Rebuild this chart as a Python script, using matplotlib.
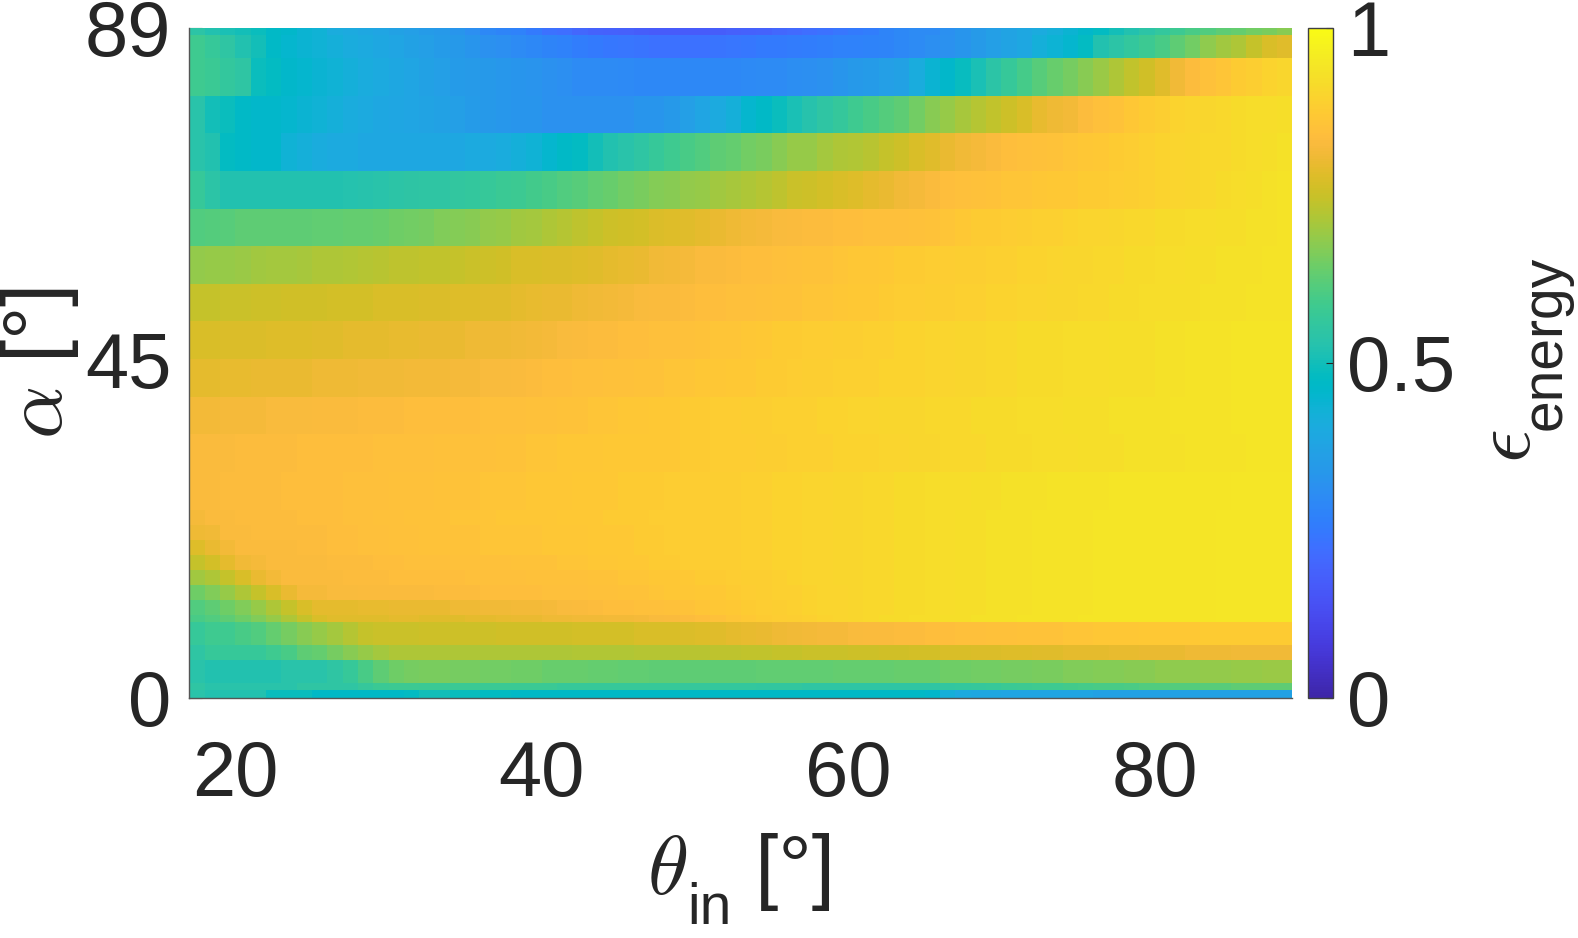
import numpy as np
import matplotlib
matplotlib.use('Agg')
import matplotlib.pyplot as plt
from matplotlib.colors import LinearSegmentedColormap

plt.rcParams['font.family'] = ['Liberation Sans', 'DejaVu Sans']
plt.rcParams['mathtext.fontset'] = 'cm'

# ---------------- data ----------------
theta_edges = list(range(17, 90))          # theta_in cell edges (deg)
alpha_edges = [0, 1, 2, 5, 7, 10, 11, 13, 15, 17, 19, 21, 23, 25, 30, 35,
               40, 45, 50, 55, 60, 65, 70, 75, 80, 85, 88, 89]
x_ticks = [20, 40, 60, 80]
y_ticks = [0, 45, 89]
c_ticks = [0, 0.5, 1]
c_ticklabels = ['0', '0.5', '1']

# epsilon_energy per alpha row, theta_in = 17 ... 88
row_0_1 = [.535,.52,.52,.52,.52,.49,.49,.49, .47,.47,.47,.47,.47,.47,.48,.50,
           .50,.49,.49,.48,.48,.47,.47,.47, .47,.47,.47,.47,.47,.47,.47,.47,
           .47,.47,.47,.47,.47,.47,.47,.47, .47,.47,.47,.47,.47,.47,.47,.47,
           .46,.42,.40,.39,.39,.38,.38,.38, .38,.38,.38,.37,.37,.37,.37,.37,
           .37,.37,.37,.37,.37,.37,.37,.37]
row_1_2 = [.55,.535,.535,.535,.535,.535,.535,.55, .55,.55,.55,.565,.575,.58,.58,.575,
           .575,.575,.575,.575,.575,.575,.575,.575, .57,.57,.57,.57,.57,.57,.57,.57,
           .565,.565,.56,.56,.56,.555,.555,.555, .55,.55,.55,.55,.55,.55,.55,.55,
           .55,.555,.56,.565,.57,.575,.58,.585, .585,.59,.595,.60,.60,.605,.61,.61,
           .615,.615,.62,.62,.625,.625,.625,.625]
row_2_5 = [.535,.52,.52,.52,.52,.52,.535,.535, .535,.55,.57,.60,.625,.645,.655,.66,
           .66,.655,.655,.65,.65,.645,.645,.64, .64,.64,.635,.635,.63,.63,.625,.625,
           .625,.625,.625,.625,.625,.63,.63,.63, .63,.63,.635,.635,.635,.635,.64,.64,
           .64,.645,.645,.65,.65,.655,.655,.66, .66,.665,.665,.67,.67,.675,.675,.68,
           .68,.68,.685,.685,.69,.69,.695,.695]
row_5_7 = [.55,.57,.57,.57,.57,.585,.60,.625, .635,.655,.675,.69,.705,.715,.715,.715,
           .715,.715,.715,.715,.715,.715,.715,.715, .715,.72,.72,.72,.72,.725,.725,.725,
           .73,.73,.735,.735,.74,.74,.745,.745, .75,.75,.75,.755,.755,.76,.76,.765,
           .765,.77,.77,.775,.775,.78,.78,.785, .785,.79,.79,.79,.795,.795,.80,.80,
           .80,.805,.805,.805,.81,.81,.81,.81]
row_7_10 = [.57,.585,.585,.60,.61,.635,.655,.675, .69,.705,.725,.745,.75,.75,.75,.755,
            .755,.755,.755,.755,.76,.76,.76,.76, .76,.765,.765,.765,.765,.77,.77,.77,
            .775,.78,.785,.79,.795,.80,.805,.81, .815,.82,.82,.825,.83,.83,.835,.835,
            .84,.84,.845,.845,.85,.85,.855,.855, .855,.86,.86,.865,.865,.865,.87,.87,
            .87,.87,.875,.875,.875,.875,.875,.875]
row_10_11 = [.60,.61,.625,.645,.665,.69,.715,.745, .77,.785,.785,.785,.785,.79,.79,.785,
             .785,.785,.79,.79,.795,.80,.80,.805, .805,.81,.81,.815,.815,.82,.825,.83,
             .835,.84,.85,.86,.87,.875,.88,.885, .89,.895,.90,.905,.91,.915,.915,.92,
             .92,.925,.925,.93,.93,.93,.935,.935, .935,.935,.94,.94,.94,.94,.94,.94,
             .94,.94,.94,.945,.945,.945,.945,.945]
row_11_13 = [.61,.625,.645,.665,.69,.715,.745,.77, .79,.79,.79,.795,.795,.80,.80,.80,
             .80,.805,.805,.81,.81,.815,.815,.82, .825,.83,.835,.84,.84,.845,.845,.85,
             .855,.86,.865,.87,.875,.88,.885,.89, .895,.90,.90,.905,.91,.91,.915,.915,
             .92,.92,.925,.925,.93,.93,.93,.935, .935,.935,.935,.94,.94,.94,.94,.94,
             .94,.94,.94,.945,.945,.945,.945,.945]
row_13_15 = [.645,.665,.69,.715,.745,.77,.80,.82, .82,.825,.825,.83,.83,.83,.83,.83,
             .835,.835,.835,.84,.84,.84,.84,.845, .845,.845,.85,.85,.855,.855,.86,.865,
             .865,.87,.87,.875,.88,.885,.89,.89, .895,.90,.90,.905,.91,.91,.915,.915,
             .92,.92,.925,.925,.93,.93,.93,.935, .935,.935,.935,.94,.94,.94,.94,.94,
             .94,.94,.94,.945,.945,.945,.945,.945]
row_15_17 = [.70,.715,.745,.77,.80,.815,.83,.83, .83,.83,.835,.835,.835,.84,.84,.84,
             .84,.84,.845,.845,.845,.845,.85,.85, .85,.85,.855,.855,.86,.86,.865,.865,
             .87,.875,.875,.88,.885,.885,.89,.895, .90,.90,.905,.905,.91,.91,.915,.915,
             .92,.92,.925,.925,.93,.93,.93,.935, .935,.935,.935,.94,.94,.94,.94,.94,
             .94,.94,.94,.945,.945,.945,.945,.945]
row_17_19 = [.745,.765,.79,.81,.82,.83,.83,.83, .83,.835,.835,.835,.84,.84,.845,.845,
             .845,.85,.85,.85,.85,.855,.855,.855, .86,.86,.865,.865,.87,.87,.875,.875,
             .88,.88,.885,.885,.89,.89,.895,.895, .90,.90,.905,.905,.91,.91,.915,.915,
             .92,.92,.925,.925,.93,.93,.93,.935, .935,.935,.935,.94,.94,.94,.94,.94,
             .94,.94,.94,.945,.945,.945,.945,.945]
row_19_21 = [.78,.80,.815,.83,.83,.83,.83,.835, .835,.84,.84,.845,.845,.85,.85,.855,
             .855,.855,.855,.86,.86,.86,.86,.865, .865,.865,.87,.87,.87,.875,.875,.88,
             .88,.88,.885,.885,.89,.89,.895,.895, .90,.90,.905,.905,.91,.91,.915,.915,
             .92,.92,.925,.925,.93,.93,.93,.935, .935,.935,.935,.94,.94,.94,.94,.94,
             .94,.94,.94,.945,.945,.945,.945,.945]
row_21_23 = [.805,.81,.83,.83,.835,.835,.835,.835, .835,.84,.84,.845,.845,.85,.85,.855,
             .855,.855,.855,.86,.86,.86,.86,.865, .865,.865,.87,.87,.87,.875,.875,.88,
             .88,.88,.885,.885,.89,.89,.895,.895, .90,.90,.905,.905,.91,.91,.915,.915,
             .92,.92,.925,.925,.93,.93,.93,.935, .935,.935,.935,.94,.94,.94,.94,.94,
             .94,.94,.94,.945,.945,.945,.945,.945]
row_23_25 = [.82,.83,.83,.835,.835,.835,.835,.84, .84,.84,.845,.845,.85,.85,.855,.855,
             .855,.86,.86,.86,.865,.865,.865,.865, .87,.87,.87,.875,.875,.875,.88,.88,
             .88,.88,.885,.885,.89,.89,.895,.895, .90,.90,.905,.905,.91,.91,.915,.915,
             .92,.92,.925,.925,.93,.93,.93,.935, .935,.935,.935,.94,.94,.94,.94,.94,
             .94,.94,.94,.945,.945,.945,.945,.945]
row_25_30 = [.83,.83,.835,.835,.835,.835,.84,.84, .84,.84,.845,.845,.845,.85,.85,.85,
             .855,.855,.855,.86,.86,.86,.865,.865, .865,.87,.87,.87,.875,.875,.875,.88,
             .88,.88,.885,.885,.89,.89,.895,.895, .90,.90,.905,.905,.91,.91,.915,.915,
             .92,.92,.92,.925,.925,.93,.93,.93, .935,.935,.935,.935,.94,.94,.94,.94,
             .94,.94,.94,.94,.945,.945,.945,.945]
row_30_35 = [.83,.83,.83,.835,.835,.835,.835,.84, .84,.84,.84,.84,.845,.845,.845,.845,
             .85,.85,.85,.85,.855,.855,.86,.86, .865,.865,.865,.87,.87,.87,.87,.87,
             .875,.875,.88,.88,.88,.885,.885,.89, .89,.89,.895,.895,.895,.90,.90,.905,
             .905,.91,.91,.91,.915,.915,.915,.92, .92,.92,.925,.925,.925,.93,.93,.93,
             .93,.935,.935,.935,.935,.94,.94,.94]
row_35_40 = [.815,.815,.82,.82,.82,.825,.825,.825, .83,.83,.83,.835,.835,.835,.84,.84,
             .84,.84,.84,.845,.845,.845,.85,.85, .855,.855,.86,.86,.865,.865,.87,.87,
             .875,.875,.88,.88,.885,.885,.89,.89, .89,.895,.895,.90,.90,.905,.905,.905,
             .91,.91,.91,.915,.915,.915,.92,.92, .92,.925,.925,.925,.93,.93,.93,.93,
             .935,.935,.935,.935,.94,.94,.94,.94]
row_40_45 = [.79,.79,.795,.795,.80,.80,.80,.80, .805,.805,.805,.81,.81,.81,.815,.815,
             .815,.82,.82,.825,.825,.83,.835,.84, .84,.845,.845,.85,.85,.855,.855,.86,
             .86,.865,.865,.87,.87,.875,.875,.88, .885,.885,.89,.89,.89,.895,.895,.895,
             .90,.90,.905,.905,.91,.91,.915,.915, .915,.92,.92,.92,.925,.925,.925,.93,
             .93,.935,.935,.935,.94,.94,.94,.94]
row_45_50 = [.77,.77,.775,.775,.775,.78,.78,.78, .785,.785,.79,.79,.79,.795,.795,.80,
             .80,.80,.805,.805,.805,.81,.815,.82, .825,.83,.835,.835,.84,.84,.845,.845,
             .85,.855,.86,.86,.865,.87,.875,.875, .88,.88,.885,.885,.89,.89,.895,.895,
             .90,.90,.905,.905,.91,.91,.915,.915, .915,.92,.92,.92,.925,.925,.925,.93,
             .93,.935,.935,.935,.94,.94,.94,.94]
row_50_55 = [.745,.745,.75,.75,.755,.755,.76,.76, .76,.765,.765,.765,.77,.77,.77,.775,
             .775,.78,.78,.785,.785,.79,.795,.80, .80,.805,.81,.815,.82,.825,.83,.83,
             .835,.84,.84,.845,.845,.85,.855,.855, .86,.86,.865,.87,.87,.875,.88,.88,
             .885,.885,.89,.89,.895,.895,.90,.90, .905,.905,.91,.91,.915,.915,.92,.92,
             .925,.925,.93,.93,.93,.935,.935,.935]
row_55_60 = [.685,.69,.69,.695,.70,.705,.705,.71, .715,.715,.72,.725,.73,.735,.735,.74,
             .74,.745,.75,.755,.76,.77,.77,.775, .775,.78,.785,.79,.795,.80,.81,.815,
             .82,.83,.83,.835,.84,.84,.845,.85, .855,.855,.86,.865,.865,.87,.875,.875,
             .88,.88,.885,.885,.89,.89,.895,.895, .90,.905,.905,.91,.91,.915,.915,.92,
             .92,.925,.925,.93,.93,.93,.935,.935]
row_60_65 = [.61,.615,.62,.625,.625,.625,.625,.625, .63,.63,.635,.635,.64,.645,.65,.655,
             .665,.67,.675,.685,.69,.70,.705,.715, .725,.735,.745,.755,.76,.765,.775,.78,
             .785,.79,.80,.805,.815,.82,.825,.83, .835,.835,.84,.84,.845,.845,.845,.85,
             .855,.86,.87,.875,.875,.88,.885,.89, .89,.895,.90,.90,.905,.91,.91,.915,
             .915,.92,.92,.925,.925,.93,.93,.935]
row_65_70 = [.57,.54,.52,.52,.52,.52,.52,.52, .52,.52,.525,.53,.535,.54,.545,.55,
             .55,.555,.56,.57,.575,.58,.59,.60, .61,.62,.63,.64,.65,.66,.67,.675,
             .685,.69,.70,.71,.715,.725,.735,.75, .755,.765,.77,.78,.79,.80,.81,.82,
             .83,.84,.845,.85,.855,.86,.86,.865, .87,.87,.875,.875,.88,.885,.89,.895,
             .90,.905,.91,.915,.92,.925,.93,.935]
row_70_75 = [.535,.52,.48,.47,.46,.46,.43,.42, .41,.40,.40,.39,.39,.39,.39,.39,
             .39,.39,.40,.40,.41,.42,.43,.45, .47,.48,.50,.52,.535,.55,.57,.585,
             .60,.61,.625,.635,.65,.66,.675,.69, .69,.705,.715,.72,.73,.745,.755,.77,
             .785,.80,.81,.82,.83,.84,.845,.85, .855,.86,.865,.87,.875,.88,.89,.895,
             .90,.905,.91,.91,.915,.92,.925,.93]
row_75_80 = [.535,.50,.49,.47,.46,.46,.45,.44, .43,.42,.41,.40,.39,.385,.38,.375,
             .37,.36,.35,.34,.335,.33,.33,.32, .32,.32,.32,.32,.32,.33,.33,.34,
             .36,.38,.40,.42,.45,.47,.49,.51, .53,.55,.565,.585,.60,.615,.625,.65,
             .675,.69,.71,.725,.74,.755,.77,.795, .805,.815,.835,.845,.855,.865,.875,.885,
             .895,.90,.905,.91,.915,.92,.92,.925]
row_80_85 = [.585,.575,.56,.55,.49,.48,.46,.45, .44,.43,.42,.41,.40,.39,.38,.37,
             .36,.35,.345,.34,.335,.33,.325,.32, .31,.30,.30,.30,.295,.29,.29,.29,
             .29,.29,.29,.29,.295,.30,.30,.305, .31,.32,.33,.34,.35,.36,.37,.41,
             .44,.46,.485,.51,.54,.57,.595,.62, .64,.655,.675,.695,.715,.74,.76,.785,
             .81,.835,.85,.86,.875,.885,.895,.905]
row_85_88 = [.585,.57,.55,.52,.50,.47,.45,.44, .43,.42,.41,.40,.39,.38,.37,.36,
             .35,.34,.33,.32,.31,.30,.29,.28, .27,.26,.25,.245,.24,.235,.23,.23,
             .23,.23,.235,.24,.245,.25,.25,.255, .26,.265,.27,.27,.275,.28,.29,.30,
             .31,.32,.33,.345,.36,.375,.39,.42, .435,.45,.48,.52,.54,.56,.58,.60,
             .625,.65,.68,.70,.715,.745,.77,.785]
row_88_89 = [.54,.52,.51,.50,.49,.47,.46,.44, .43,.41,.40,.39,.38,.37,.36,.35,
             .34,.33,.31,.29,.28,.27,.25,.23, .22,.20,.19,.185,.18,.175,.17,.17,
             .17,.17,.175,.18,.185,.19,.20,.21, .22,.23,.24,.25,.26,.28,.29,.30,
             .30,.315,.33,.345,.36,.375,.39,.405, .42,.44,.46,.48,.50,.52,.54,.56,
             .58,.60,.61,.625,.635,.65,.66,.675]

rows = [row_0_1, row_1_2, row_2_5, row_5_7, row_7_10, row_10_11, row_11_13,
        row_13_15, row_15_17, row_17_19, row_19_21, row_21_23, row_23_25,
        row_25_30, row_30_35, row_35_40, row_40_45, row_45_50, row_50_55,
        row_55_60, row_60_65, row_65_70, row_70_75, row_75_80, row_80_85,
        row_85_88, row_88_89]
for i, r in enumerate(rows):
    assert len(r) == len(theta_edges) - 1, (i, len(r))
Z = np.array(rows)

# ---------------- parula colormap ----------------
parula_64 = [
 [0.2422,0.1504,0.6603],[0.2504,0.1650,0.7076],[0.2578,0.1818,0.7511],[0.2647,0.1978,0.7952],
 [0.2706,0.2147,0.8364],[0.2751,0.2342,0.8710],[0.2783,0.2559,0.8991],[0.2803,0.2782,0.9221],
 [0.2813,0.3006,0.9414],[0.2810,0.3228,0.9579],[0.2795,0.3447,0.9717],[0.2760,0.3667,0.9829],
 [0.2699,0.3892,0.9906],[0.2602,0.4123,0.9952],[0.2440,0.4358,0.9988],[0.2206,0.4603,0.9973],
 [0.1963,0.4847,0.9892],[0.1834,0.5074,0.9798],[0.1786,0.5289,0.9682],[0.1764,0.5499,0.9520],
 [0.1687,0.5703,0.9359],[0.1540,0.5902,0.9218],[0.1460,0.6091,0.9079],[0.1380,0.6276,0.8973],
 [0.1248,0.6459,0.8883],[0.1113,0.6635,0.8763],[0.0952,0.6798,0.8598],[0.0689,0.6948,0.8394],
 [0.0297,0.7082,0.8163],[0.0036,0.7203,0.7917],[0.0067,0.7312,0.7660],[0.0433,0.7411,0.7394],
 [0.0964,0.7500,0.7120],[0.1408,0.7584,0.6842],[0.1717,0.7670,0.6554],[0.1938,0.7758,0.6251],
 [0.2161,0.7843,0.5923],[0.2470,0.7918,0.5567],[0.2906,0.7973,0.5188],[0.3406,0.8008,0.4789],
 [0.3909,0.8029,0.4354],[0.4456,0.8024,0.3909],[0.5044,0.7993,0.3480],[0.5616,0.7942,0.3045],
 [0.6174,0.7876,0.2612],[0.6720,0.7793,0.2227],[0.7242,0.7698,0.1910],[0.7738,0.7598,0.1646],
 [0.8203,0.7498,0.1535],[0.8634,0.7406,0.1596],[0.9035,0.7330,0.1774],[0.9393,0.7288,0.2100],
 [0.9728,0.7298,0.2394],[0.9956,0.7434,0.2371],[0.9970,0.7659,0.2199],[0.9952,0.7893,0.2028],
 [0.9892,0.8136,0.1885],[0.9786,0.8386,0.1766],[0.9676,0.8639,0.1643],[0.9610,0.8890,0.1537],
 [0.9597,0.9135,0.1423],[0.9628,0.9373,0.1265],[0.9691,0.9606,0.1064],[0.9769,0.9839,0.0805]]
parula = LinearSegmentedColormap.from_list('parula', parula_64, N=256)

# ---------------- figure ----------------
FS = 56          # tick labels
LFS = 60         # axis labels
SFS = 41         # label subscripts
TXT = '#262626'
W, H = 1578, 938
fig = plt.figure(figsize=(W / 100, H / 100), dpi=100)
ax = fig.add_axes([0.12, 0.2562, 0.699, 0.714])
mesh = ax.pcolormesh(theta_edges, alpha_edges, Z, cmap=parula, vmin=0, vmax=1,
                     shading='flat', antialiased=False, edgecolors='none')
ax.set_xlim(theta_edges[0], theta_edges[-1])
ax.set_ylim(alpha_edges[0], alpha_edges[-1])
ax.set_xticks(x_ticks)
ax.set_yticks(y_ticks)
ax.set_axisbelow(True)
ax.tick_params(axis='both', direction='in', length=9, labelsize=FS, colors=TXT)
ax.tick_params(axis='x', pad=30)
ax.tick_params(axis='y', pad=13)
for s in ['top', 'right']:
    ax.spines[s].set_visible(False)
for s in ['left', 'bottom']:
    ax.spines[s].set_color('#555555')
    ax.spines[s].set_linewidth(1.0)

ax.set_ylabel(r'$\alpha$ [°]', fontsize=LFS, color=TXT, labelpad=3)

cax = fig.add_axes([0.8289, 0.2562, 0.01584, 0.714])
cb = fig.colorbar(mesh, cax=cax, ticks=c_ticks)
cb.ax.set_yticklabels(c_ticklabels)
cb.ax.tick_params(direction='in', length=5, labelsize=FS, colors=TXT, pad=10)
cb.outline.set_edgecolor('#404040')
cb.outline.set_linewidth(1.0)

renderer = fig.canvas.get_renderer()


def compose(pieces, x0, y0, rot):
    """Place text pieces one after the other along the baseline (pixels)."""
    texts, pos = [], 0.0
    for s, fs, shift in pieces:
        if rot == 0:
            px, py = x0 + pos, y0 - shift
        else:
            px, py = x0 + shift, y0 + pos
        t = fig.text(px / W, py / H, s, fontsize=fs, color=TXT, rotation=rot,
                     rotation_mode='anchor', ha='left', va='baseline')
        bb = t.get_window_extent(renderer)
        pos += bb.width if rot == 0 else bb.height
        texts.append(t)
    return texts, pos


# x label: theta_in [deg], centred under the axes
xl_texts, xl_len = compose([(r'$\theta$', LFS, 0), ('in', SFS, 30),
                            (' [°]', LFS, 0)], 0, 44, 0)
x_centre = (0.12 + 0.699 / 2) * W
for t in xl_texts:
    px, py = t.get_position()
    t.set_position((px + (x_centre - xl_len / 2) / W, py))

# colour-bar label: epsilon_energy, vertical
compose([(r'$\epsilon$', LFS, 0), ('energy', SFS, 31)], 1530, 475, 90)

fig.savefig('out.png', dpi=100)
